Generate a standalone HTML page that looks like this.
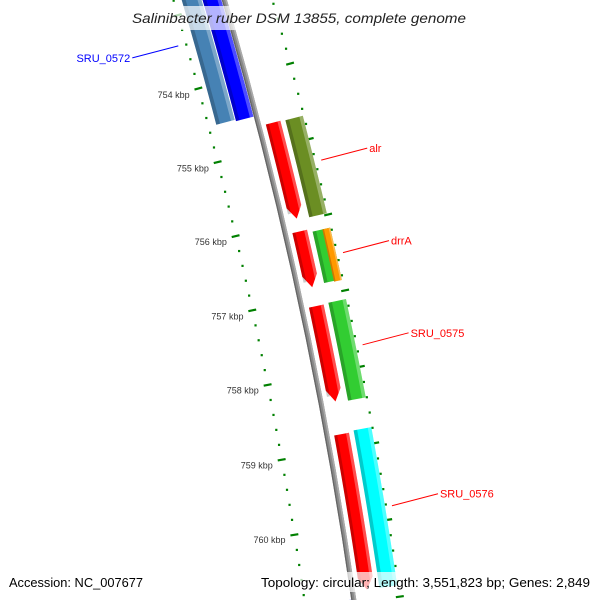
<!DOCTYPE html>
<html><head><meta charset="utf-8"><style>
html,body{margin:0;padding:0;background:#fff;overflow:hidden;}
svg{display:block;font-family:"Liberation Sans","DejaVu Sans",sans-serif;}
</style></head><body>
<svg id="map" width="600" height="600" viewBox="0 0 600 600" xmlns="http://www.w3.org/2000/svg">
<g id="ticks"></g>
<g id="backbone"></g>
<g id="features"></g>
<g id="labels"></g>
<rect x="110" y="6" width="380" height="24" fill="#fff" fill-opacity="0.7"/>
<text x="132" y="23" textLength="334" lengthAdjust="spacingAndGlyphs" font-size="14" font-style="italic" fill="#222">Salinibacter ruber DSM 13855, complete genome</text>
<rect x="4" y="572" width="146" height="20" fill="#fff" fill-opacity="0.7"/>
<text x="9" y="587" textLength="134" lengthAdjust="spacingAndGlyphs" font-size="12.5" fill="#000">Accession: NC_007677</text>
<rect x="256" y="572" width="340" height="20" fill="#fff" fill-opacity="0.7"/>
<text x="261" y="587" textLength="329" lengthAdjust="spacingAndGlyphs" font-size="12.5" fill="#000">Topology: circular; Length: 3,551,823 bp; Genes: 2,849</text>
</svg>
<script>
// ---- data ----
var featNames  = ['SRU_0572a','SRU_0572','alr-rev','alr','drrA-rev','drrA-g','drrA','SRU_0575-rev','SRU_0575','SRU_0576-rev','SRU_0576','next-rev'];
var featStart  = [752.0, 752.0, 754.68, 754.69, 756.13, 756.17, 756.17, 757.12, 757.11, 758.81, 758.79, 760.95];
var featEnd    = [754.52, 754.54, 755.96, 755.98, 756.87, 756.85, 756.86, 758.38, 758.40, 760.85, 760.85, 761.6];
var featSlot   = [-2, -1, 1, 2, 1, 2, 3, 1, 2, 1, 2, -1];
var featColor  = ['#4682b4','#0000ff','#ff0000','#6b8e23','#ff0000','#32cd32','#ff9900','#ff0000','#32cd32','#ff0000','#00ffff','#0000ff'];
var featArrow  = [0, 0, 1, 0, 1, 0, 0, 1, 0, 1, 0, 0];
var tickMajor  = [754, 755, 756, 757, 758, 759, 760];
var labelText  = ['SRU_0572','alr','drrA','SRU_0575','SRU_0576'];
var labelKbp   = [753.39, 755.30, 756.52, 757.73, 759.83];
var labelColor = ['#0000ff','#ff0000','#ff0000','#ff0000','#ff0000'];
var labelSide  = [-1, 1, 1, 1, 1];

// ---- geometry ----
var CX=-3976, CY=1220, R=4374, TH0=-0.2647, DTH=0.0176;
function ang(k){return TH0+(k-754)*DTH;}
function pt(k,r){var a=ang(k);return [CX+r*Math.cos(a), CY+r*Math.sin(a)];}
var slotR = {'-2':[-41,-22],'-1':[-21,-3],'1':[7,22],'2':[27,45],'3':[37,45]};
var NS='http://www.w3.org/2000/svg';
function mk(tag,attrs,parent){var e=document.createElementNS(NS,tag);for(var a in attrs)e.setAttribute(a,attrs[a]);parent.appendChild(e);return e;}
function arcPts(k1,k2,r){var p=[],n=40;for(var i=0;i<=n;i++){p.push(pt(k1+(k2-k1)*i/n,r));}return p;}
function band(k1,k2,r1,r2,arrow){
  var pts=[],h=0.16;
  if(arrow){
    var ke=Math.max(k1,k2-h);
    pts=pts.concat(arcPts(k1,ke,R+r2));
    pts.push(pt(k2,R+(r1+r2)/2));
    pts=pts.concat(arcPts(ke,k1,R+r1));
  } else {
    pts=pts.concat(arcPts(k1,k2,R+r2));
    pts=pts.concat(arcPts(k2,k1,R+r1));
  }
  return 'M'+pts.map(function(p){return p[0].toFixed(2)+','+p[1].toFixed(2);}).join('L')+'Z';
}
// ticks
var tg=document.getElementById('ticks');
var rings=[-49,46];
for(var m=752;m<=762;m+=0.2){
  var km=Math.round(m*10)/10;
  var isMaj=Math.abs(km-Math.round(km))<1e-6;
  for(var j=0;j<rings.length;j++){
    var rr=R+rings[j];
    if(isMaj){
      var a=pt(km,rr-4),b=pt(km,rr+4);
      var ln=mk('line',{x1:a[0],y1:a[1],x2:b[0],y2:b[1],stroke:'#008000','stroke-width':2.2},tg);
      
      
    } else {
      var c=pt(km,rr);
      var d=mk('rect',{x:c[0]-1,y:c[1]-1,width:2.2,height:2.2,fill:'#008000'},tg);
      
      
    }
  }
}
tickMajor.forEach(function(k){
  var p=pt(k,R-58);
  var t=mk('text',{x:p[0],y:p[1]+7,'text-anchor':'end','font-size':9,fill:'#333'},tg);
  t.textContent=k+' kbp';
  
  
});
// backbone
var bg=document.getElementById('backbone');
var bb=mk('path',{d:band(740,775,-2.5,2.5,0),fill:'#888'},bg);


mk('path',{d:band(740,775,-2.5,-1.2,0),fill:'#666'},bg);
mk('path',{d:band(740,775,0.8,2.5,0),fill:'#aaa'},bg);
// features
var fg=document.getElementById('features');
for(var i=0;i<featNames.length;i++){
  var s=slotR[String(featSlot[i])],r1=s[0],r2=s[1],w=r2-r1;
  var g=mk('g',{},fg);
  
  
  mk('path',{d:band(featStart[i],featEnd[i],r1,r2,featArrow[i]),fill:featColor[i]},g);
  mk('path',{d:band(featStart[i],featEnd[i]-(featArrow[i]?0.08:0),r1,r1+w*0.2,0),fill:'#000','fill-opacity':0.2},g);
  mk('path',{d:band(featStart[i],featEnd[i]-(featArrow[i]?0.1:0),r2-w*0.2,r2,0),fill:'#fff','fill-opacity':0.3},g);
}
// labels
var lg=document.getElementById('labels');
for(var i=0;i<labelText.length;i++){
  var side=labelSide[i];
  var p=pt(labelKbp[i],R+(side>0?52:-57));
  var ex=p[0]+side*46, ey=p[1]-side*12;
  var l=mk('line',{x1:p[0],y1:p[1],x2:ex,y2:ey,stroke:labelColor[i],'stroke-width':1},lg);
  
  
  var t=mk('text',{x:ex+side*2,y:ey+4,'text-anchor':side>0?'start':'end','font-size':11,fill:labelColor[i]},lg);
  t.textContent=labelText[i];
  
  
}
</script>
</body></html>
